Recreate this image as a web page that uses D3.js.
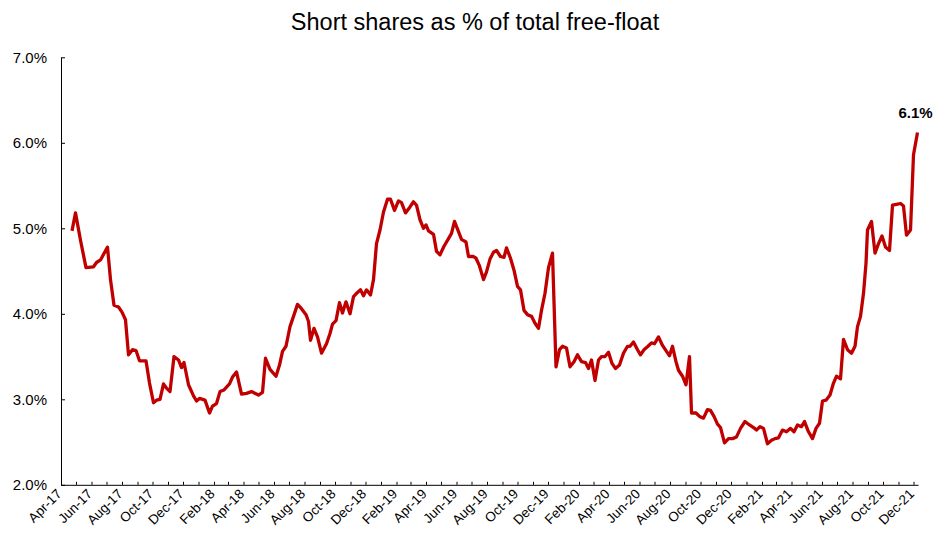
<!DOCTYPE html>
<html>
<head>
<meta charset="utf-8">
<script src="https://cdn.jsdelivr.net/npm/d3@7"></script>
<style>
  body { margin: 0; background: #fff; }
  #chart { width: 934px; height: 538px; }
  text { font-family: Arial, 'Liberation Sans', sans-serif; }
</style>
</head>
<body>
<div id="chart"></div>
<script>
const dates = [
  '2017-04-23', '2017-04-30', '2017-05-10', '2017-05-21', '2017-06-05', '2017-06-11', '2017-06-19', '2017-07-03',
  '2017-07-09', '2017-07-16', '2017-07-25', '2017-08-01', '2017-08-08', '2017-08-14', '2017-08-22', '2017-08-29',
  '2017-09-05', '2017-09-18', '2017-09-25', '2017-10-03', '2017-10-09', '2017-10-16', '2017-10-23', '2017-10-29',
  '2017-11-05', '2017-11-13', '2017-11-22', '2017-11-28', '2017-12-03', '2017-12-12', '2017-12-22', '2017-12-28',
  '2018-01-03', '2018-01-14', '2018-01-23', '2018-01-29', '2018-02-06', '2018-02-13', '2018-02-21', '2018-03-04',
  '2018-03-10', '2018-03-18', '2018-03-28', '2018-04-07', '2018-04-17', '2018-05-01', '2018-05-09', '2018-05-15',
  '2018-05-24', '2018-06-05', '2018-06-12', '2018-06-18', '2018-06-25', '2018-07-03', '2018-07-10', '2018-07-18',
  '2018-07-26', '2018-08-04', '2018-08-09', '2018-08-13', '2018-08-20', '2018-08-27', '2018-09-04', '2018-09-14',
  '2018-09-21', '2018-09-26', '2018-10-03', '2018-10-10', '2018-10-16', '2018-10-23', '2018-10-31', '2018-11-07',
  '2018-11-15', '2018-11-21', '2018-11-27', '2018-12-03', '2018-12-11', '2018-12-17', '2018-12-23', '2018-12-30',
  '2019-01-06', '2019-01-14', '2019-01-20', '2019-01-28', '2019-02-05', '2019-02-11', '2019-02-19', '2019-02-28',
  '2019-03-07', '2019-03-13', '2019-03-20', '2019-03-27', '2019-04-01', '2019-04-06', '2019-04-16', '2019-04-22',
  '2019-04-29', '2019-05-07', '2019-05-16', '2019-05-22', '2019-05-28', '2019-06-05', '2019-06-11', '2019-06-20',
  '2019-06-25', '2019-07-05', '2019-07-10', '2019-07-17', '2019-07-25', '2019-07-31', '2019-08-07', '2019-08-14',
  '2019-08-20', '2019-08-28', '2019-09-04', '2019-09-09', '2019-09-17', '2019-09-24', '2019-10-01', '2019-10-07',
  '2019-10-14', '2019-10-21', '2019-10-29', '2019-11-05', '2019-11-12', '2019-11-18', '2019-11-25', '2019-12-02',
  '2019-12-10', '2019-12-17', '2019-12-24', '2019-12-30', '2020-01-07', '2020-01-14', '2020-01-22', '2020-01-29',
  '2020-02-06', '2020-02-14', '2020-02-20', '2020-02-26', '2020-03-04', '2020-03-11', '2020-03-17', '2020-03-24',
  '2020-03-31', '2020-04-07', '2020-04-14', '2020-04-22', '2020-04-30', '2020-05-08', '2020-05-13', '2020-05-20',
  '2020-05-28', '2020-06-03', '2020-06-10', '2020-06-18', '2020-06-25', '2020-07-01', '2020-07-09', '2020-07-17',
  '2020-07-25', '2020-07-31', '2020-08-06', '2020-08-13', '2020-08-18', '2020-08-26', '2020-09-02', '2020-09-09',
  '2020-09-13', '2020-09-22', '2020-09-29', '2020-10-07', '2020-10-15', '2020-10-21', '2020-10-28', '2020-11-04',
  '2020-11-10', '2020-11-18', '2020-11-26', '2020-12-04', '2020-12-12', '2020-12-20', '2020-12-29', '2021-01-07',
  '2021-01-15', '2021-01-21', '2021-01-28', '2021-02-04', '2021-02-12', '2021-02-20', '2021-02-27', '2021-03-06',
  '2021-03-14', '2021-03-22', '2021-03-30', '2021-04-06', '2021-04-13', '2021-04-21', '2021-04-27', '2021-05-05',
  '2021-05-13', '2021-05-20', '2021-05-27', '2021-06-02', '2021-06-09', '2021-06-17', '2021-06-24', '2021-06-30',
  '2021-07-08', '2021-07-14', '2021-07-22', '2021-07-30', '2021-08-06', '2021-08-11', '2021-08-17', '2021-08-23',
  '2021-08-28', '2021-08-31', '2021-09-08', '2021-09-15', '2021-09-22', '2021-09-29', '2021-10-06', '2021-10-14',
  '2021-10-20', '2021-10-28', '2021-11-05', '2021-11-11', '2021-11-17', '2021-11-25', '2021-12-01', '2021-12-09',
];

// short shares, % of free-float
const values = [
  4.97, 5.18, 4.86, 4.54, 4.55, 4.60, 4.63, 4.78,
  4.40, 4.10, 4.08, 4.02, 3.93, 3.52, 3.58, 3.57,
  3.45, 3.45, 3.19, 2.96, 2.99, 3.00, 3.18, 3.13,
  3.09, 3.50, 3.46, 3.37, 3.43, 3.17, 3.04, 2.98,
  3.01, 2.99, 2.84, 2.92, 2.95, 3.09, 3.11, 3.18,
  3.26, 3.32, 3.06, 3.07, 3.09, 3.05, 3.08, 3.48,
  3.35, 3.27, 3.40, 3.56, 3.62, 3.85, 3.97, 4.11,
  4.06, 3.99, 3.91, 3.69, 3.83, 3.73, 3.54, 3.65,
  3.77, 3.88, 3.92, 4.13, 4.01, 4.14, 4.00, 4.20,
  4.25, 4.28, 4.21, 4.28, 4.22, 4.40, 4.82, 4.98,
  5.19, 5.34, 5.34, 5.21, 5.32, 5.30, 5.18, 5.25,
  5.31, 5.27, 5.10, 5.00, 5.04, 4.97, 4.93, 4.73,
  4.69, 4.79, 4.88, 4.94, 5.08, 4.96, 4.87, 4.84,
  4.67, 4.67, 4.65, 4.56, 4.40, 4.49, 4.64, 4.72,
  4.74, 4.67, 4.66, 4.77, 4.65, 4.51, 4.32, 4.28,
  4.04, 3.99, 3.97, 3.89, 3.83, 4.04, 4.24, 4.54,
  4.71, 3.38, 3.58, 3.62, 3.60, 3.38, 3.44, 3.52,
  3.44, 3.43, 3.36, 3.46, 3.22, 3.46, 3.50, 3.50,
  3.55, 3.42, 3.36, 3.40, 3.54, 3.62, 3.62, 3.67,
  3.58, 3.52, 3.58, 3.62, 3.66, 3.65, 3.73, 3.63,
  3.56, 3.51, 3.62, 3.44, 3.34, 3.27, 3.17, 3.50,
  2.84, 2.84, 2.80, 2.78, 2.88, 2.87, 2.80, 2.71,
  2.67, 2.49, 2.54, 2.54, 2.56, 2.66, 2.74, 2.70,
  2.67, 2.64, 2.68, 2.66, 2.48, 2.52, 2.54, 2.55,
  2.64, 2.62, 2.66, 2.62, 2.70, 2.68, 2.74, 2.62,
  2.54, 2.66, 2.72, 2.98, 2.99, 3.05, 3.19, 3.27,
  3.24, 3.70, 3.58, 3.54, 3.62, 3.85, 3.97, 4.24,
  4.59, 4.98, 5.08, 4.71, 4.82, 4.91, 4.78, 4.74,
  5.27, 5.28, 5.29, 5.26, 4.92, 4.98, 5.86, 6.12,
];

const yTicks = [2, 3, 4, 5, 6, 7];
const title = 'Short shares as % of total free-float';
const lastLabel = '6.1%';

const parse = d3.timeParse('%Y-%m-%d');
const data = dates.map((d, i) => ({ date: parse(d), value: values[i] }));

const width = 934;
const height = 538;
const plotLeft = 61;
const plotRight = 918;
const plotTop = 57.3;
const plotBottom = 484.8;

const svg = d3
  .select('#chart')
  .append('svg')
  .attr('width', width)
  .attr('height', height);

const x = d3
  .scaleTime()
  .domain([new Date(2017, 3, 1), new Date(2021, 11, 10)])
  .range([plotLeft, plotRight]);

const y = d3.scaleLinear().domain([2, 7]).range([plotBottom, plotTop]);

svg
  .append('text')
  .attr('x', 475)
  .attr('y', 30)
  .attr('text-anchor', 'middle')
  .attr('font-size', 23.5)
  .attr('fill', '#000')
  .text(title);

// y axis
const yAxis = svg
  .append('g')
  .attr('transform', `translate(${plotLeft},0)`)
  .call(
    d3
      .axisLeft(y)
      .tickValues(yTicks)
      .tickSizeInner(-4)
      .tickSizeOuter(0)
      .tickPadding(14)
      .tickFormat((d) => d3.format('.1f')(d) + '%'),
  );

yAxis.select('.domain').attr('stroke', '#000');
yAxis.selectAll('.tick line').attr('stroke', '#000');
yAxis
  .selectAll('.tick text')
  .attr('font-size', 15)
  .attr('font-family', 'Arial, Liberation Sans, sans-serif')
  .attr('fill', '#000');

// x axis, monthly ticks, labels every two months
const months = d3.timeMonth.range(new Date(2017, 3, 1), new Date(2021, 11, 2));

const xAxis = svg
  .append('g')
  .attr('transform', `translate(0,${plotBottom})`)
  .call(
    d3
      .axisBottom(x)
      .tickValues(months)
      .tickSizeInner(-3)
      .tickSizeOuter(0)
      .tickFormat((d, i) => (i % 2 === 0 ? d3.timeFormat('%b-%y')(d) : '')),
  );

xAxis.select('.domain').attr('stroke', '#000');
xAxis.selectAll('.tick line').attr('stroke', '#000');
xAxis
  .selectAll('.tick text')
  .attr('font-size', 13.5)
  .attr('font-family', 'Arial, Liberation Sans, sans-serif')
  .attr('fill', '#000')
  .attr('text-anchor', 'end')
  .attr('dy', 0)
  .attr('y', 0)
  .attr('transform', 'translate(1,10) rotate(-45)');

svg
  .append('path')
  .datum(data)
  .attr('fill', 'none')
  .attr('stroke', '#C00000')
  .attr('stroke-width', 3.3)
  .attr('stroke-linejoin', 'round')
  .attr(
    'd',
    d3
      .line()
      .x((d) => x(d.date))
      .y((d) => y(d.value)),
  );

const last = data[data.length - 1];

svg
  .append('text')
  .attr('x', x(last.date) - 2)
  .attr('y', y(last.value) - 15)
  .attr('text-anchor', 'middle')
  .attr('font-size', 15)
  .attr('font-weight', 'bold')
  .attr('fill', '#000')
  .text(lastLabel);
</script>
</body>
</html>
